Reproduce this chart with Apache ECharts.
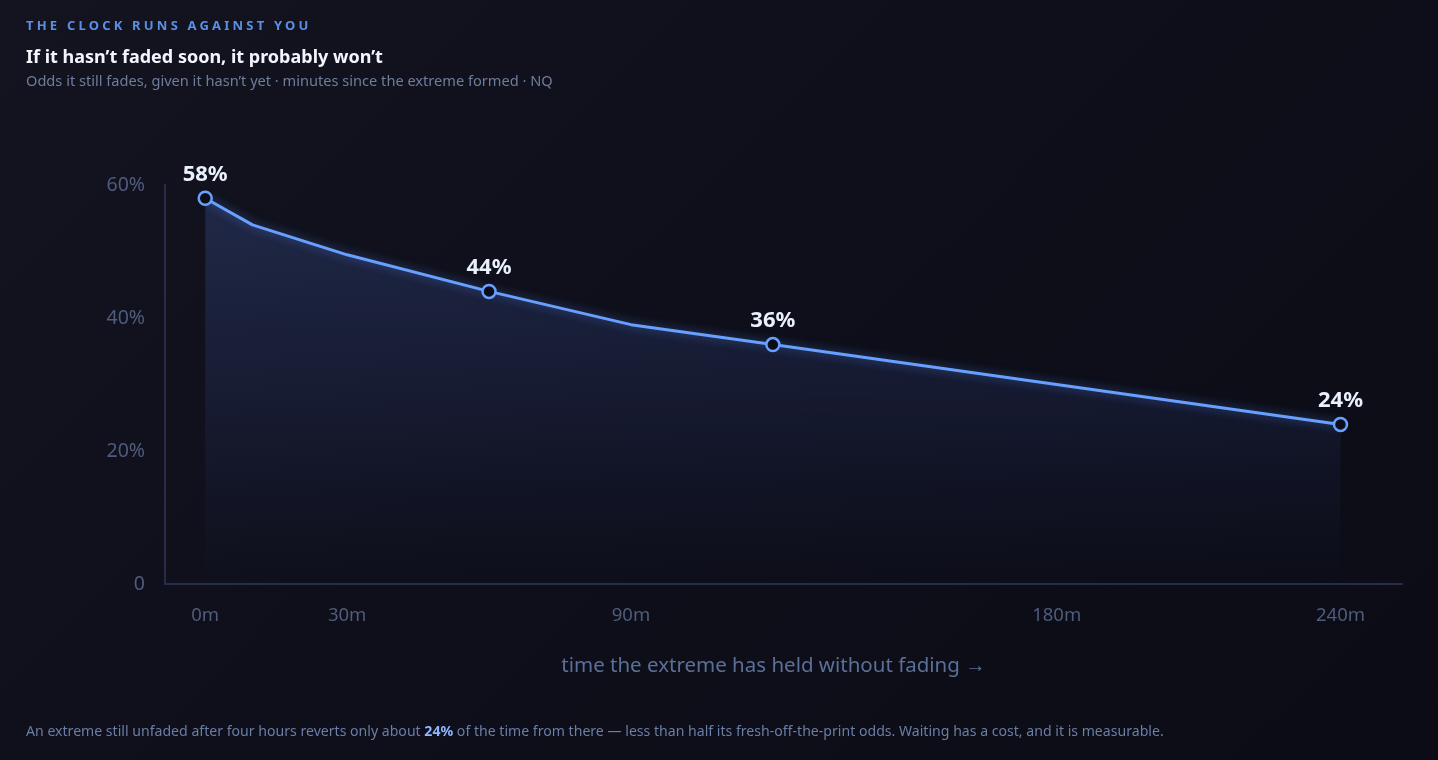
<!DOCTYPE html>
<html>
<head>
<meta charset="utf-8">
<script src="https://cdn.jsdelivr.net/npm/echarts@6/dist/echarts.min.js"></script>
<style>
  html, body {
    margin: 0;
    width: 1438px;
    height: 760px;
    overflow: hidden;
    background: linear-gradient(135deg, #13141f 0%, #0e0f1a 45%, #0b0c15 100%);
    font-family: "Noto Sans", "Open Sans", sans-serif;
  }
  #chart {
    position: absolute;
    left: 0;
    top: 0;
    width: 1438px;
    height: 760px;
  }
  .head {
    position: absolute;
    left: 26px;
    top: 16px;
    z-index: 2;
  }
  .eyebrow {
    color: #5b8fe6;
    font-size: 13px;
    font-weight: 700;
    letter-spacing: 3.2px;
    line-height: 18px;
  }
  .title {
    color: #f2f5fc;
    font-size: 18px;
    font-weight: 700;
    margin-top: 11px;
    line-height: 22px;
  }
  .sub {
    color: #6f7d9c;
    font-size: 14.6px;
    margin-top: 3px;
    line-height: 20px;
  }
  .foot {
    position: absolute;
    left: 26px;
    top: 721px;
    color: #6b7ea6;
    font-size: 14.1px;
    line-height: 20px;
    z-index: 2;
  }
  .foot b { color: #8fb6ff; }
</style>
</head>
<body>
<div class="head">
  <div class="eyebrow">THE CLOCK RUNS AGAINST YOU</div>
  <div class="title">If it hasn’t faded soon, it probably won’t</div>
  <div class="sub">Odds it still fades, given it hasn’t yet · minutes since the extreme formed · NQ</div>
</div>
<div id="chart"></div>
<div class="foot">An extreme still unfaded after four hours reverts only about <b>24%</b> of the time from there — less than half its fresh-off-the-print odds. Waiting has a cost, and it is measurable.</div>

<script>
// minutes since the extreme formed
const minutes = [0, 10, 30, 60, 90, 120, 180, 240];
// odds it still fades (%)
const fadeOdds = [58, 54, 49.5, 44, 39, 36, 30, 24];
// which points get a marker + label
const markedMinutes = [0, 60, 120, 240];
const xTicks = [0, 30, 90, 180, 240];
const yTicks = [0, 20, 40, 60];

const axisColor = '#262d48';
const tickColor = '#4f5c7c';
const lineColor = '#68a0ff';

const chartInstance = echarts.init(document.getElementById('chart'));

const seriesData = minutes.map((m, i) => {
  const marked = markedMinutes.includes(m);
  return {
    value: [m, fadeOdds[i]],
    symbolSize: marked ? 13 : 0,
    label: { show: marked }
  };
});

const optionSetting = {
  animation: false,
  grid: { left: 165, right: 36, top: 185, bottom: 176 },
  xAxis: {
    type: 'value',
    min: -8.5,
    max: 253,
    name: 'time the extreme has held without fading →',
    nameLocation: 'middle',
    nameGap: 72,
    nameTextStyle: { color: '#5b7099', fontSize: 20.5, fontFamily: 'Noto Sans', padding: [0, 20, 0, 0] },
    axisLine: { show: true, onZero: false, lineStyle: { color: axisColor, width: 2 } },
    axisTick: { show: false },
    splitLine: { show: false },
    axisLabel: {
      customValues: xTicks,
      formatter: (v) => `${v}m`,
      color: tickColor,
      fontSize: 18.5,
      fontFamily: 'Noto Sans',
      margin: 22
    }
  },
  yAxis: {
    type: 'value',
    min: 0,
    max: 60,
    interval: 20,
    axisLine: { show: true, onZero: false, lineStyle: { color: axisColor, width: 2 } },
    axisTick: { show: false },
    splitLine: { show: false },
    axisLabel: {
      customValues: yTicks,
      formatter: (v) => (v === 0 ? '0' : `${v}%`),
      color: tickColor,
      fontSize: 19.5,
      fontFamily: 'Noto Sans',
      margin: 20
    }
  },
  series: [
    {
      type: 'line',
      data: seriesData,
      symbol: 'circle',
      showSymbol: true,
      itemStyle: {
        color: '#0c0d17',
        borderColor: lineColor,
        borderWidth: 2.5
      },
      lineStyle: {
        color: lineColor,
        width: 3,
        shadowColor: 'rgba(90, 140, 255, 0.55)',
        shadowBlur: 10
      },
      label: {
        position: 'top',
        distance: 5,
        formatter: (p) => `${Math.round(p.value[1])}%`,
        color: '#eaf0fd',
        fontSize: 22,
        fontWeight: 700,
        fontFamily: 'Noto Sans'
      },
      areaStyle: {
        color: {
          type: 'linear',
          x: 0, y: 0, x2: 0, y2: 1,
          colorStops: [
            { offset: 0, color: 'rgba(80, 110, 200, 0.36)' },
            { offset: 0.5, color: 'rgba(70, 95, 185, 0.22)' },
            { offset: 1, color: 'rgba(50, 70, 150, 0.02)' }
          ]
        }
      },
      z: 3
    }
  ]
};

chartInstance.setOption(optionSetting);
window.addEventListener('resize', () => chartInstance.resize());
</script>
</body>
</html>
